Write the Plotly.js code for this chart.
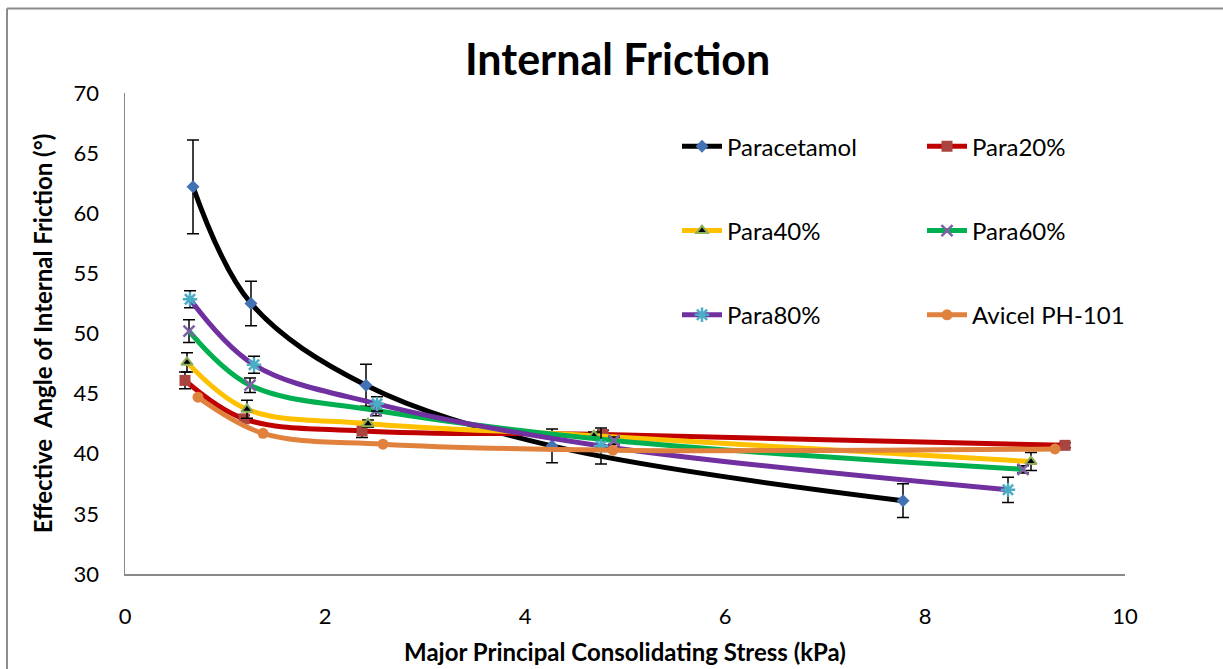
<!DOCTYPE html>
<html>
<head>
<meta charset="utf-8">
<script src="https://cdn.plot.ly/plotly-3.0.1.min.js"></script>
<style>html,body{margin:0;padding:0;background:#fff;}#chart{width:1223px;height:669px;}</style>
</head>
<body>
<div id="chart"></div>
<script>
// Series names
var seriesNames = ["Paracetamol", "Para20%", "Para40%", "Para60%", "Para80%", "Avicel PH-101"];

// Major principal consolidating stress (kPa)
var xParacetamol = [0.68, 1.26, 2.41, 4.27, 7.78];
var xPara20 = [0.60, 1.19, 2.37, 4.78, 9.40];
var xPara40 = [0.62, 1.22, 2.43, 4.69, 9.06];
var xPara60 = [0.64, 1.25, 2.51, 4.89, 8.98];
var xPara80 = [0.65, 1.29, 2.52, 4.76, 8.83];
var xAvicel = [0.73, 1.38, 2.58, 4.88, 9.30];

// Effective angle of internal friction (deg)
var yParacetamol = [62.2, 52.5, 45.7, 40.65, 36.1];
var yPara20 = [46.1, 42.9, 41.9, 41.6, 40.7];
var yPara40 = [47.6, 43.7, 42.5, 41.5, 39.35];
var yPara60 = [50.2, 45.7, 43.6, 41.1, 38.7];
var yPara80 = [52.85, 47.4, 44.15, 40.65, 37.0];
var yAvicel = [44.7, 41.7, 40.8, 40.3, 40.4];

// Error bar half-lengths
var eParacetamol = [3.9, 1.85, 1.75, 1.4, 1.4];
var ePara20 = [0.7, 0.3, 0.55, 0.35, 0.2];
var ePara40 = [0.8, 0.75, 0.3, 0.3, 0.75];
var ePara60 = [0.95, 0.6, 0.45, 0.3, 0.3];
var ePara80 = [0.7, 0.7, 0.6, 1.5, 1.05];
var eAvicel = [0, 0, 0, 0, 0];

var xTicks = [0, 2, 4, 6, 8, 10];
var yTicks = [30, 35, 40, 45, 50, 55, 60, 65, 70];

var xs = [xParacetamol, xPara20, xPara40, xPara60, xPara80, xAvicel];
var ys = [yParacetamol, yPara20, yPara40, yPara60, yPara80, yAvicel];
var es = [eParacetamol, ePara20, ePara40, ePara60, ePara80, eAvicel];

var lineColors = ["#000000", "#C00000", "#FFC000", "#00B050", "#7030A0", "#E0823D"];
var markers = [
  {symbol: "diamond", color: "#4272B4", size: 10, line: {width: 0}},
  {symbol: "square", color: "#A9443F", size: 11, line: {width: 0}},
  {symbol: "triangle-up", color: "#000000", size: 10, line: {width: 2, color: "#8FB05A"}},
  {symbol: "x-thin-open", color: "#7F5FA5", size: 11, line: {width: 2.5, color: "#7F5FA5"}},
  {symbol: "asterisk-open", color: "#4BACC6", size: 12, line: {width: 2.5, color: "#4BACC6"}},
  {symbol: "circle", color: "#E0823D", size: 11, line: {width: 0}}
];
var legendIds = ["legend", "legend2", "legend", "legend2", "legend", "legend2"];

var traces = [];
for (var i = 0; i < seriesNames.length; i++) {
  traces.push({
    type: "scatter",
    mode: "lines+markers",
    name: seriesNames[i],
    x: xs[i],
    y: ys[i],
    line: {color: lineColors[i], width: 5, shape: "spline", smoothing: 1},
    marker: markers[i],
    error_y: {type: "data", array: es[i], visible: es[i].some(function(v){return v>0;}), color: "#000000", thickness: 1.5, width: 6},
    legend: legendIds[i],
    legendgroup: "g" + i
  });
}

var fontFam = "Lato, 'Open Sans', sans-serif";
var layout = {
  width: 1223,
  height: 669,
  margin: {l: 125, r: 98, t: 93, b: 95},
  paper_bgcolor: "#ffffff",
  plot_bgcolor: "#ffffff",
  font: {family: fontFam, color: "#000000"},
  title: {text: "<b>Internal Friction</b>", font: {size: 43, family: fontFam, color: "#000"}, x: 0.505, xanchor: "center", y: 0.91, yanchor: "middle"},
  xaxis: {
    range: [0, 10], tickvals: xTicks, ticktext: xTicks.map(String),
    showgrid: false, zeroline: false, showline: true, linecolor: "#888888", linewidth: 1.5,
    ticks: "", ticklabelstandoff: 22, tickfont: {size: 22, family: fontFam},
    title: {text: "<b>Major Principal Consolidating Stress (kPa)</b>", font: {size: 24, family: fontFam}, standoff: 16}
  },
  yaxis: {
    range: [30, 70], tickvals: yTicks, ticktext: yTicks.map(String),
    showgrid: false, zeroline: false, showline: true, linecolor: "#888888", linewidth: 1.5,
    ticks: "", ticklabelstandoff: 20, tickfont: {size: 22, family: fontFam},
    title: {text: "<b>Effective  Angle of Internal Friction (°)</b>", font: {size: 24, family: fontFam}, standoff: 14}
  },
  legend: {x: 0.552, y: 0.935, xanchor: "left", yanchor: "top", bgcolor: "rgba(0,0,0,0)", font: {size: 24, family: fontFam}, tracegroupgap: 50, traceorder: "grouped", itemwidth: 40},
  legend2: {x: 0.797, y: 0.935, xanchor: "left", yanchor: "top", bgcolor: "rgba(0,0,0,0)", font: {size: 24, family: fontFam}, tracegroupgap: 50, traceorder: "grouped", itemwidth: 40},
  showlegend: true,
  shapes: [
    {type: "line", xref: "paper", yref: "paper", x0: -0.118, x1: 1.1, y0: 1.1757, y1: 1.1757, line: {color: "#8c8c8c", width: 2}},
    {type: "line", xref: "paper", yref: "paper", x0: -0.118, x1: -0.118, y0: 1.1757, y1: -0.2, line: {color: "#8c8c8c", width: 2}}
  ]
};

Plotly.newPlot("chart", traces, layout, {displayModeBar: false, staticPlot: true});
</script>
</body>
</html>
